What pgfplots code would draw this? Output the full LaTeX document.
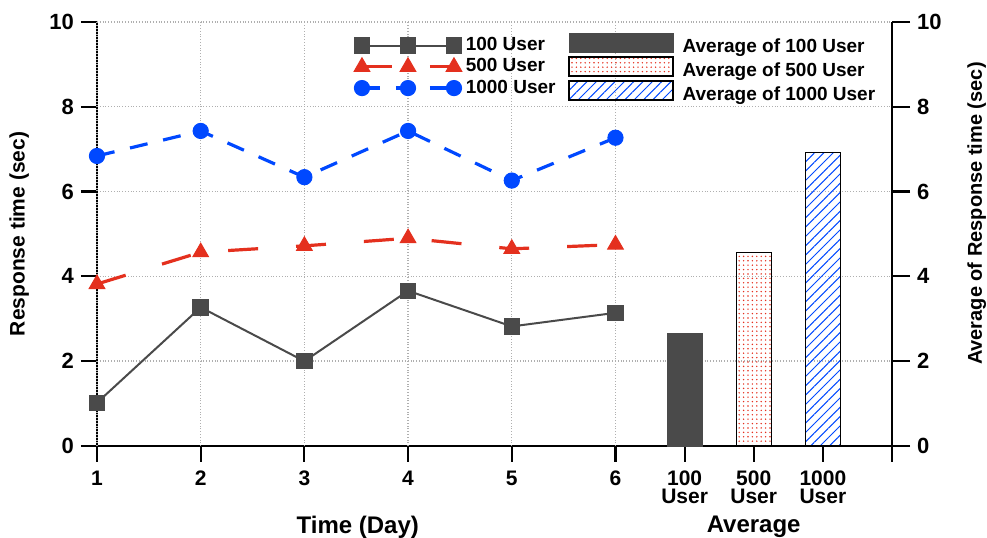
\documentclass[border=0pt]{standalone}
\usepackage{pgfplots}
\pgfplotsset{compat=1.18}
\usepackage{fontspec}
\setmainfont{Liberation Sans}
\usetikzlibrary{patterns.meta}
\definecolor{cgray}{RGB}{74,74,74}
\definecolor{cred}{RGB}{228,48,30}
\definecolor{cblue}{RGB}{0,72,255}
\definecolor{cgrid}{RGB}{175,175,175}
\begin{document}
\begin{tikzpicture}
\begin{axis}[name=ax,
  scale only axis, width=397.5pt, height=212pt,
  xmin=1, xmax=8.6667, ymin=0, ymax=10, clip=false,
  axis x line*=bottom, axis y line*=left,
  x axis line style={-, line width=1.1pt},
  y axis line style={-, line width=1.1pt},
  xtick={1,2,3,4,5,6,6.6667,7.3333,8,8.6667},
  xticklabels={1,2,3,4,5,6,{100\\User},{500\\User},{1000\\User},{}},
  ytick={0,2,4,6,8,10},
  tick align=outside, major tick length=8pt,
  tick style={line width=1.1pt, black},
  x tick label style={align=center, font=\bfseries\fontsize{10.5}{9}\selectfont, yshift=-1pt},
  y tick label style={font=\bfseries\fontsize{11}{12}\selectfont},
  /pgf/number format/assume math mode=true,
  ymajorgrids, grid style={cgrid, densely dotted, line width=0.7pt},
  extra x ticks={1,2,3,4,5,6}, extra x tick labels={},
  extra x tick style={grid=major, major tick length=0pt},
  ylabel={\bfseries Response time (sec)},
  ylabel style={at={(axis description cs:-0.098,0.5)}, anchor=center, font=\fontsize{10.5}{12}\selectfont},
  legend style={at={(0.323,0.974)}, anchor=north west, draw=none, fill=none,
    font=\bfseries\fontsize{9.5}{10}\selectfont, row sep=-1.5pt, inner sep=0pt},
  legend cell align=left,
  legend image code/.code={\draw[#1] plot coordinates {(0pt,0pt) (23pt,0pt) (46pt,0pt)};},
]
\addplot[cgray, line width=1pt, mark=square*, mark size=3.6pt, mark options={solid, fill=cgray}]
  coordinates {(1,1.02) (2,3.27) (3,2.0) (4,3.66) (5,2.82) (6,3.14)};
\addlegendentry{100 User}
\addplot[cred, line width=1.6pt, dash pattern=on 15pt off 19pt, mark=triangle*, mark size=4.5pt, mark options={solid, fill=cred, line width=0.5pt}]
  coordinates {(1,3.82) (2,4.57) (3,4.72) (4,4.9) (5,4.65) (6,4.75)};
\addlegendentry{500 User}
\addplot[cblue, line width=1.6pt, dash pattern=on 9pt off 8pt, mark=*, mark size=3.8pt, mark options={solid, fill=cblue, line width=0.5pt}]
  coordinates {(1,6.84) (2,7.43) (3,6.34) (4,7.43) (5,6.26) (6,7.27)};
\addlegendentry{1000 User}
\addplot[ybar, bar width=17.5pt, bar shift=0pt, fill=cgray, draw=cgray, forget plot]
  coordinates {(6.6667,2.65)};
\addplot[ybar, bar width=17.5pt, bar shift=0pt, draw=black, line width=0.6pt,
  pattern={Dots[distance=2.2pt, radius=0.4pt]}, pattern color=cred, forget plot]
  coordinates {(7.3333,4.57)};
\addplot[ybar, bar width=17.5pt, bar shift=0pt, draw=black, line width=0.6pt,
  pattern={Lines[angle=45, distance=3.3pt, line width=0.5pt]}, pattern color=cblue, forget plot]
  coordinates {(8,6.93)};
\node[font=\bfseries\fontsize{12}{14}\selectfont] at (rel axis cs:0.328,0) [yshift=-40.5pt] {Time (Day)};
\node[font=\bfseries\fontsize{12}{14}\selectfont] at (rel axis cs:0.826,0) [yshift=-40.5pt] {Average};
\end{axis}
\begin{axis}[
  scale only axis, width=397.5pt, height=212pt,
  xmin=1, xmax=8.6667, ymin=0, ymax=10,
  axis x line=none, axis y line*=right,
  y axis line style={-, line width=1.1pt},
  ytick={0,2,4,6,8,10},
  tick align=outside, major tick length=9pt,
  tick style={line width=1.1pt, black},
  y tick label style={font=\bfseries\fontsize{11}{12}\selectfont},
  /pgf/number format/assume math mode=true,
  ylabel={\bfseries Average of Response time (sec)},
  ylabel style={at={(axis description cs:1.1066,0.548)}, anchor=center, font=\fontsize{10}{12}\selectfont},
  legend style={at={(0.5925,0.976)}, anchor=north west, draw=none, fill=none,
    font=\bfseries\fontsize{9.5}{10}\selectfont, row sep=-1.5pt, inner sep=0pt,
    nodes={inner xsep=4.5pt}},
  legend cell align=left,
  legend image code/.code={\draw[#1] (0pt,-2.5pt) rectangle (52pt,7pt);},
]
\addlegendimage{fill=cgray, draw=cgray}
\addlegendentry{Average of 100 User}
\addlegendimage{draw=black, line width=0.6pt, pattern={Dots[distance=2.2pt, radius=0.4pt]}, pattern color=cred}
\addlegendentry{Average of 500 User}
\addlegendimage{draw=black, line width=0.6pt, pattern={Lines[angle=45, distance=3.3pt, line width=0.5pt]}, pattern color=cblue}
\addlegendentry{Average of 1000 User}
\end{axis}
\pgfresetboundingbox
\path[use as bounding box] ([xshift=-48.5pt,yshift=-46pt]ax.south west) rectangle ([xshift=47.5pt,yshift=11pt]ax.north east);
\end{tikzpicture}
\end{document}
